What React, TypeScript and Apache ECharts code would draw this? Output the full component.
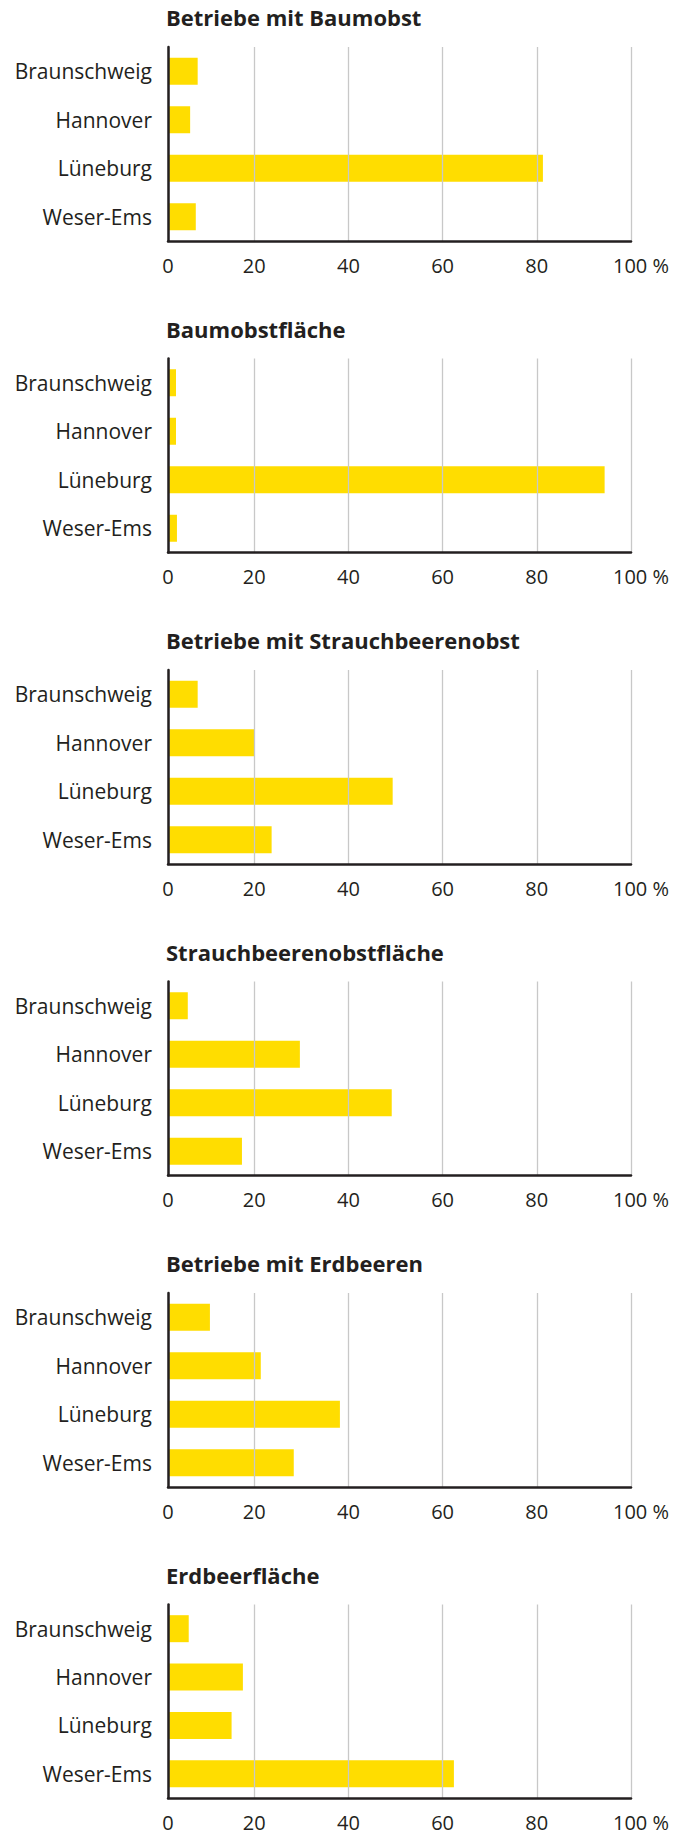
import React, { useEffect, useRef } from 'react';
import * as echarts from 'echarts';

const categories = ['Braunschweig', 'Hannover', 'Lüneburg', 'Weser-Ems'];
const tickLabels = ['0', '20', '40', '60', '80', '100 %'];

const chartTitles = [
  'Betriebe mit Baumobst',
  'Baumobstfläche',
  'Betriebe mit Strauchbeerenobst',
  'Strauchbeerenobstfläche',
  'Betriebe mit Erdbeeren',
  'Erdbeerfläche',
];

const betriebeBaumobst = [8.0, 6.4, 81.3, 7.6];
const baumobstflaeche = [3.4, 3.4, 94.4, 3.6];
const betriebeStrauchbeeren = [8.0, 20.0, 49.4, 23.7];
const strauchbeerenflaeche = [5.9, 29.7, 49.2, 17.4];
const betriebeErdbeeren = [10.6, 21.4, 38.2, 28.4];
const erdbeerflaeche = [6.1, 17.6, 15.2, 62.4];

const seriesValues = [
  betriebeBaumobst,
  baumobstflaeche,
  betriebeStrauchbeeren,
  strauchbeerenflaeche,
  betriebeErdbeeren,
  erdbeerflaeche,
];

const FONT = 'Open Sans';
const TEXT = '#231f20';
const YELLOW = '#ffdd00';
const STEP = 311.5;

export default function App() {
  const ref = useRef<HTMLDivElement>(null);

  useEffect(() => {
    if (!ref.current) return;
    const chart = echarts.init(ref.current, null, { renderer: 'svg' });

    const title: any[] = [];
    const grid: any[] = [];
    const xAxis: any[] = [];
    const yAxis: any[] = [];
    const series: any[] = [];

    chartTitles.forEach((t, i) => {
      const off = i * STEP;
      title.push({
        text: t,
        left: 166,
        top: 6 + off,
        padding: 0,
        textStyle: { fontFamily: FONT, fontWeight: 'bold', fontSize: 22, color: TEXT },
      });
      grid.push({ left: 168, top: 47 + off, width: 463, height: 194 });
      xAxis.push({
        type: 'value',
        gridIndex: i,
        min: 1.7,
        max: 100,
        splitNumber: 5,
        axisLine: { show: true, onZero: false, lineStyle: { color: TEXT, width: 2.5 } },
        axisTick: { show: false },
        splitLine: { show: true, lineStyle: { color: '#c8c8c8', width: 1.3 } },
        axisLabel: {
          margin: 15,
          color: TEXT,
          fontFamily: FONT,
          fontSize: 20,
          lineHeight: 18,
          formatter: (_v: number, idx: number) =>
            idx === tickLabels.length - 1 ? '{last|' + tickLabels[idx] + '}' : tickLabels[idx],
          rich: {
            last: {
              fontFamily: FONT,
              fontSize: 20,
              lineHeight: 18,
              color: TEXT,
              padding: [0, 0, 0, 20],
            },
          },
        },
        z: 3,
      });
      yAxis.push({
        type: 'category',
        gridIndex: i,
        data: categories,
        inverse: true,
        axisLine: { show: true, onZero: false, lineStyle: { color: TEXT, width: 2.5 } },
        axisTick: { show: false },
        splitLine: { show: false },
        axisLabel: { margin: 16, color: TEXT, fontFamily: FONT, fontSize: 21 },
        z: 3,
      });
      series.push({
        type: 'bar',
        xAxisIndex: i,
        yAxisIndex: i,
        data: seriesValues[i],
        barWidth: 27,
        clip: true,
        itemStyle: { color: YELLOW },
        emphasis: { disabled: true },
      });
    });

    chart.setOption({
      animation: false,
      backgroundColor: '#ffffff',
      title,
      grid,
      xAxis,
      yAxis,
      series,
    });

    return () => chart.dispose();
  }, []);

  return (
    <div
      ref={ref}
      style={{ position: 'absolute', left: 0, top: 0, width: 690, height: 1832 }}
    />
  );
}
